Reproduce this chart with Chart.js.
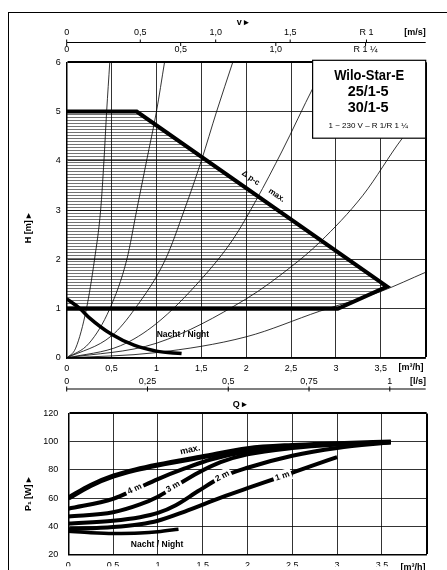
<!DOCTYPE html>
<html>
<head>
<meta charset="utf-8">
<script src="https://cdn.jsdelivr.net/npm/chart.js@4.4.1/dist/chart.umd.min.js"></script>
<style>
  html, body { margin: 0; padding: 0; background: #fff; }
  body { width: 447px; height: 570px; position: relative; overflow: hidden; }
  #frame { position: absolute; left: 8px; top: 12px; width: 440px; height: 600px; border-left: 1.5px solid #000; border-top: 1.5px solid #000; }
  #top { position: absolute; left: 0; top: 0; }
  #bottom { position: absolute; left: 0; top: 398px; }
</style>
</head>
<body>
<div id="frame"></div>
<canvas id="top" width="447" height="400"></canvas>
<canvas id="bottom" width="447" height="172"></canvas>
<script>
// ---- top chart: H [m] over Q [m3/h]
const hatchQ = [0, 0, 0.78, 3.57, 3.02, 0]
const hatchH = [1, 5, 5, 1.45, 1.0, 1]
const maxQ = [0, 0.78, 3.57, 3.02, 0]
const maxH = [5, 5, 1.45, 1.0, 1.0]
const nightQ = [0, 0.15, 0.25, 0.5, 0.75, 1.0, 1.28]
const nightH = [1.2, 1.0, 0.82, 0.48, 0.26, 0.14, 0.09]

// system curves (thin)
const sysAQ = [0, 0.1, 0.22, 0.31, 0.378, 0.415, 0.445, 0.48]
const sysAH = [0, 0.2, 1.0, 2.0, 3.0, 4.0, 5.0, 6.0]
const sysBQ = [0, 0.25, 0.48, 0.67, 0.78, 0.89, 1.0, 1.09]
const sysBH = [0, 0.3, 1.0, 2.0, 3.0, 4.0, 5.0, 6.0]
const sysCQ = [0, 0.5, 0.76, 1.1, 1.31, 1.5, 1.67, 1.85]
const sysCH = [0, 0.45, 1.0, 2.0, 3.0, 4.0, 5.0, 6.0]
const sysDQ = [0, 0.6, 1.0, 1.5, 1.85, 2.11, 2.4, 2.75, 2.9]
const sysDH = [0, 0.25, 0.7, 1.6, 2.4, 3.2, 4.2, 5.5, 6.0]
const sysEQ = [0, 1.0, 2.0, 2.5, 2.82, 3.3, 3.74, 3.9]
const sysEH = [0, 0.3, 1.2, 1.85, 2.35, 3.3, 4.46, 4.8]
const sysFQ = [0, 1.0, 2.0, 2.82, 3.5, 4.0]
const sysFH = [0, 0.11, 0.43, 0.95, 1.35, 1.74]

// velocity scales (positions in m3/h)
const vR1Labels = ['0', '0,5', '1,0', '1,5', 'R 1']
const vR1Q = [0, 0.82, 1.66, 2.49, 3.34]
const vR114Labels = ['0', '0,5', '1,0', 'R 1 \u00bc']
const vR114Q = [0, 1.27, 2.33, 3.33]
const lsLabels = ['0', '0,25', '0,5', '0,75', '1']
const lsValues = [0, 0.25, 0.5, 0.75, 1]

// ---- bottom chart: P1 [W] over Q [m3/h]
const pMaxQ = [0, 0.25, 0.5, 0.75, 1.0, 1.5, 2.0, 2.5, 3.0, 3.6]
const pMaxW = [60, 69, 75.5, 80, 83.5, 89.3, 95, 97.3, 98.5, 99.8]
const p4Q = [0, 0.5, 0.74, 1.0, 1.3, 1.6, 2.0, 2.5, 3.6]
const p4W = [52.5, 59.5, 66, 73.5, 81, 87.5, 93, 96.5, 99.8]
const p3Q = [0, 0.5, 0.8, 1.0, 1.17, 1.45, 1.7, 2.0, 2.5, 3.0, 3.6]
const p3W = [47, 50, 55.5, 61, 67.5, 78, 85.5, 91, 95.5, 98, 99.8]
const p2Q = [0, 0.5, 0.8, 1.0, 1.2, 1.45, 1.7, 2.0, 2.5, 3.0, 3.6]
const p2W = [42, 44, 46.5, 49.5, 55, 65, 74.5, 81.5, 90, 95.5, 99.5]
const p1Q = [0, 0.5, 0.8, 1.0, 1.3, 1.71, 2.0, 2.39, 2.7, 3.0]
const p1W = [38, 39.5, 41.5, 44, 50.5, 60.5, 67, 75.5, 82.5, 89]
const pNightQ = [0, 0.25, 0.5, 0.8, 1.0, 1.23]
const pNightW = [36.5, 35.5, 35, 35.3, 36.2, 38]

const FONT = '"Liberation Sans", Arial, sans-serif'
Chart.defaults.font.family = FONT
Chart.defaults.font.size = 9
Chart.defaults.color = '#000'

function pts(xs, ys) {
  return xs.map((x, i) => ({x, y: ys[i]}))
}

function curve(xs, ys, width, order) {
  return {
    data: pts(xs, ys), showLine: true, pointRadius: 0, borderColor: '#000',
    borderWidth: width, cubicInterpolationMode: 'monotone', fill: false, order
  }
}

function comma(v) {
  return String(v).replace('.', ',')
}

function text(ctx, s, x, y, font, opts = {}) {
  ctx.save()
  ctx.translate(x, y)
  if (opts.angle) ctx.rotate(opts.angle * Math.PI / 180)
  ctx.font = font
  const w = ctx.measureText(s).width
  if (opts.width) ctx.scale(Math.min(1, opts.width / w), 1)
  if (opts.bg) {
    ctx.fillStyle = '#fff'
    ctx.fillRect(-w / 2 - 2, -6, w + 4, 12)
  }
  ctx.fillStyle = '#000'
  ctx.textAlign = opts.align || 'center'
  ctx.textBaseline = 'middle'
  ctx.fillText(s, 0, 0)
  ctx.restore()
}

function hatch(canvas) {
  const c = document.createElement('canvas')
  c.width = 8
  c.height = 3
  const g = c.getContext('2d')
  g.fillStyle = 'rgba(0,0,0,0.55)'
  g.fillRect(0, 0, 8, 1)
  return canvas.getContext('2d').createPattern(c, 'repeat')
}

function axisOpts(min, max, step, edge, fit, extra) {
  return {
    type: 'linear', min, max,
    afterFit: fit,
    ticks: Object.assign({stepSize: step, autoSkip: false, maxRotation: 0}, extra),
    grid: {
      color: '#000', drawTicks: false,
      lineWidth: c => (c.tick && c.tick.value === edge ? 2 : 0.8)
    },
    border: {color: '#000', width: 1.5}
  }
}

const topCanvas = document.getElementById('top')

const topDecor = {
  id: 'topDecor',
  afterDatasetsDraw(chart) {
    const {ctx, scales: {x, y}} = chart
    // title box
    const bl = x.getPixelForValue(2.74), br = x.getPixelForValue(4)
    const bt = y.getPixelForValue(6) - 2, bb = y.getPixelForValue(4.46)
    ctx.save()
    ctx.fillStyle = '#fff'
    ctx.fillRect(bl, bt, br - bl, bb - bt)
    ctx.strokeStyle = '#000'
    ctx.lineWidth = 1.2
    ctx.strokeRect(bl, bt, br - bl, bb - bt)
    ctx.restore()
    const cx = (bl + br) / 2
    text(ctx, 'Wilo-Star-E', cx, bt + 16, 'bold 15px ' + FONT, {width: 70})
    text(ctx, '25/1-5', cx - 1, bt + 32, 'bold 15px ' + FONT, {width: 41})
    text(ctx, '30/1-5', cx - 1, bt + 48, 'bold 15px ' + FONT, {width: 41})
    text(ctx, '1 ~ 230 V \u2013 R 1/R 1 \u00bc', cx - 1, bt + 65, '8px ' + FONT, {width: 95})

    // curve labels
    text(ctx, '\u0394 p-c', x.getPixelForValue(2.05), y.getPixelForValue(3.65), 'bold 8px ' + FONT, {angle: 35})
    text(ctx, 'max.', x.getPixelForValue(2.34), y.getPixelForValue(3.3), 'bold 8px ' + FONT, {angle: 35})
    text(ctx, 'Nacht / Night', x.getPixelForValue(1.295), y.getPixelForValue(0.47), 'bold 8.5px ' + FONT)
  },
  afterDraw(chart) {
    const {ctx, scales: {x, y}} = chart
    ctx.save()
    ctx.strokeStyle = '#000'
    ctx.lineWidth = 1.2
    // velocity scale on top
    const vy = 42.5
    ctx.beginPath()
    ctx.moveTo(x.left, vy)
    ctx.lineTo(x.right, vy)
    ctx.stroke()
    ctx.lineWidth = 1
    vR1Q.forEach((q, i) => {
      const px = x.getPixelForValue(q)
      ctx.beginPath(); ctx.moveTo(px, vy); ctx.lineTo(px, vy - 3); ctx.stroke()
      text(ctx, vR1Labels[i], px, 33, '9px ' + FONT)
    })
    vR114Q.forEach((q, i) => {
      const px = x.getPixelForValue(q)
      ctx.beginPath(); ctx.moveTo(px, vy); ctx.lineTo(px, vy + 3.5); ctx.stroke()
      text(ctx, vR114Labels[i], px, 50, '9px ' + FONT)
    })
    text(ctx, '[m/s]', 415, 33, 'bold 9px ' + FONT)
    text(ctx, 'v \u25b8', 243, 23, 'bold 9px ' + FONT)

    // l/s scale below
    const ly = 389
    ctx.lineWidth = 1.2
    ctx.beginPath()
    ctx.moveTo(x.left, ly)
    ctx.lineTo(x.right, ly)
    ctx.stroke()
    ctx.lineWidth = 1
    lsValues.forEach((v, i) => {
      const px = x.getPixelForValue(v * 3.6)
      ctx.beginPath(); ctx.moveTo(px, ly - 2.5); ctx.lineTo(px, ly + 2.5); ctx.stroke()
      text(ctx, lsLabels[i], px, 382, '9px ' + FONT)
    })
    text(ctx, '[l/s]', 418, 382, 'bold 9px ' + FONT)
    text(ctx, '[m\u00b3/h]', 411, 367.5, 'bold 9px ' + FONT)
    ctx.restore()
    text(ctx, 'H [m] \u25b8', 29, 228, 'bold 9px ' + FONT, {angle: -90})
  }
}

new Chart(topCanvas, {
  type: 'scatter',
  data: {
    datasets: [
      {
        data: pts(hatchQ, hatchH), showLine: true, pointRadius: 0, tension: 0,
        borderWidth: 0, borderColor: 'rgba(0,0,0,0)',
        backgroundColor: hatch(topCanvas), fill: 'shape', order: 10
      },
      curve(sysAQ, sysAH, 0.8, 5),
      curve(sysBQ, sysBH, 0.8, 5),
      curve(sysCQ, sysCH, 0.8, 5),
      curve(sysDQ, sysDH, 0.8, 5),
      curve(sysEQ, sysEH, 0.8, 5),
      curve(sysFQ, sysFH, 0.8, 5),
      Object.assign(curve(maxQ, maxH, 4, 1), {cubicInterpolationMode: 'default', tension: 0, borderJoinStyle: 'miter'}),
      curve(nightQ, nightH, 3.5, 1)
    ]
  },
  options: {
    responsive: false,
    animation: false,
    events: [],
    layout: {padding: {left: 26.7, top: 62.3, right: 21.3, bottom: 22}},
    plugins: {legend: {display: false}, tooltip: {enabled: false}},
    scales: {
      x: axisOpts(0, 4, 0.5, 4, s => { s.height = 20 },
        {padding: 5, callback: v => (v === 4 ? '' : comma(v))}),
      y: axisOpts(0, 6, 1, 6, s => { s.width = 40 }, {padding: 6})
    }
  },
  plugins: [topDecor]
})

const bottomDecor = {
  id: 'bottomDecor',
  afterDatasetsDraw(chart) {
    const {ctx, scales: {x, y}} = chart
    const f = 'bold 8.5px ' + FONT
    text(ctx, 'max.', x.getPixelForValue(1.36), y.getPixelForValue(94.2), 'bold 9px ' + FONT, {angle: -12})
    text(ctx, '4 m', x.getPixelForValue(0.74), y.getPixelForValue(66.5), f, {angle: -26, bg: true})
    text(ctx, '3 m', x.getPixelForValue(1.17), y.getPixelForValue(68), f, {angle: -30, bg: true})
    text(ctx, '2 m', x.getPixelForValue(1.72), y.getPixelForValue(75.5), f, {angle: -28, bg: true})
    text(ctx, '1 m', x.getPixelForValue(2.39), y.getPixelForValue(75.5), f, {angle: -19, bg: true})
    text(ctx, 'Nacht / Night', x.getPixelForValue(0.99), y.getPixelForValue(27.1), 'bold 8.5px ' + FONT)
  },
  afterDraw(chart) {
    const {ctx} = chart
    text(ctx, 'Q \u25b8', 240, 7, 'bold 9px ' + FONT)
    text(ctx, '[m\u00b3/h]', 413, 170, 'bold 9px ' + FONT)
    text(ctx, 'P\u2081 [W] \u25b8', 29, 96, 'bold 9px ' + FONT, {angle: -90})
  }
}

new Chart(document.getElementById('bottom'), {
  type: 'scatter',
  data: {
    datasets: [
      curve(pMaxQ, pMaxW, 5, 1),
      curve(p4Q, p4W, 4, 2),
      curve(p3Q, p3W, 4, 2),
      curve(p2Q, p2W, 4, 2),
      curve(p1Q, p1W, 4, 2),
      curve(pNightQ, pNightW, 3.5, 2)
    ]
  },
  options: {
    responsive: false,
    animation: false,
    events: [],
    layout: {padding: {left: 28.3, top: 14.7, right: 20.3, bottom: 0}},
    plugins: {legend: {display: false}, tooltip: {enabled: false}},
    scales: {
      x: axisOpts(0, 4, 0.5, 4, s => { s.height = 11.7 },
        {padding: 6, callback: v => (v === 4 ? '' : comma(v))}),
      y: axisOpts(20, 120, 20, 120, s => { s.width = 40 }, {padding: 10})
    }
  },
  plugins: [bottomDecor]
})
</script>
</body>
</html>
